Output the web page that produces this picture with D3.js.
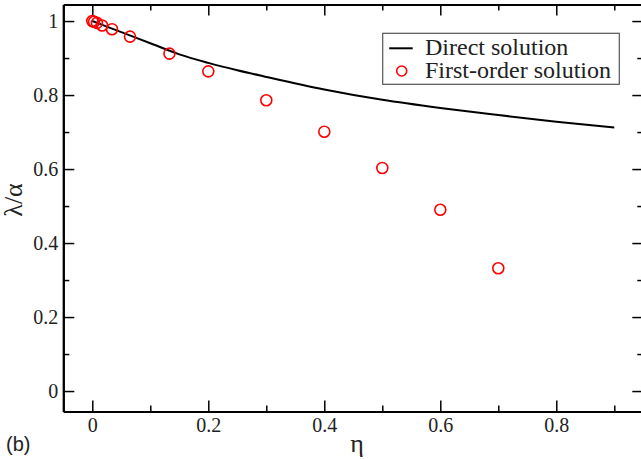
<!DOCTYPE html>
<html>
<head>
<meta charset="utf-8">
<script src="https://cdn.jsdelivr.net/npm/d3@7"></script>
<style>
  body { margin: 0; background: #fff; }
  svg { display: block; }
  .serif { font-family: "Liberation Serif", "Times New Roman", Times, "Nimbus Roman", "DejaVu Serif", serif; }
  .axis .tick text { font-family: "Liberation Serif", "Times New Roman", Times, "Nimbus Roman", "DejaVu Serif", serif; font-size: 20px; fill: #222; }
  .axis path.domain { stroke: #000; stroke-width: 2; }
  .axis .tick line { stroke: #000; stroke-width: 1.5; }
</style>
</head>
<body>
<div id="plot"></div>
<script>
"use strict";

// Direct solution (line)
var directEta = [0, 0.05, 0.1, 0.15, 0.2, 0.25, 0.3, 0.4, 0.5, 0.6, 0.7, 0.8, 0.9];
var directLambda = [1.0, 0.970, 0.940, 0.910, 0.887, 0.867, 0.849, 0.815, 0.787, 0.765, 0.746, 0.728, 0.712];

// First-order solution (circles)
var firstEta = [0, 0.003, 0.008, 0.017, 0.034, 0.065, 0.133, 0.2, 0.3, 0.4, 0.5, 0.6, 0.7];
var firstLambda = [1.0, 0.998, 0.995, 0.988, 0.978, 0.958, 0.912, 0.864, 0.786, 0.701, 0.603, 0.490, 0.332];

var xMajor = [0, 0.2, 0.4, 0.6, 0.8];
var xMinor = [0.1, 0.3, 0.5, 0.7, 0.9];
var yMajor = [0, 0.2, 0.4, 0.6, 0.8, 1];
var yMinor = [0.1, 0.3, 0.5, 0.7, 0.9];

var legendLabels = ["Direct solution", "First-order solution"];

var WIDTH = 641;
var HEIGHT = 459;
var MAJOR = 11;
var MINOR = 6;

var svg = d3.select("#plot").append("svg")
    .attr("width", WIDTH)
    .attr("height", HEIGHT);

var scaleX = d3.scaleLinear().domain([-0.05, 0.95]).range([63.3, 643.3]);
var scaleY = d3.scaleLinear().domain([-0.055, 1.045]).range([411.4, 4.4]);

var x0 = scaleX.range()[0], x1 = scaleX.range()[1];
var y0 = scaleY.range()[0], y1 = scaleY.range()[1];

var fmt = function (d) { return d === 0 || d === 1 ? String(d) : d3.format(".1f")(d); };

// Axes: bottom / left with labels, top / right mirrored without
function addAxis(axisFn, translate, values, size, labels, pad) {
    var ax = axisFn.tickValues(values)
        .tickSizeInner(-size)
        .tickSizeOuter(0)
        .tickPadding(pad || 0)
        .tickFormat(labels ? fmt : "");
    svg.append("g")
        .attr("class", "axis")
        .attr("transform", translate)
        .call(ax)
        .attr("font-family", null)
        .attr("font-size", null);
}

addAxis(d3.axisBottom(scaleX), "translate(0," + y0 + ")", xMajor, MAJOR, true, 6);
addAxis(d3.axisBottom(scaleX), "translate(0," + y0 + ")", xMinor, MINOR, false);
addAxis(d3.axisTop(scaleX), "translate(0," + y1 + ")", xMajor, MAJOR, false);
addAxis(d3.axisTop(scaleX), "translate(0," + y1 + ")", xMinor, MINOR, false);
addAxis(d3.axisLeft(scaleY), "translate(" + x0 + ",0)", yMajor, MAJOR, true, 5);
addAxis(d3.axisLeft(scaleY), "translate(" + x0 + ",0)", yMinor, MINOR, false);
addAxis(d3.axisRight(scaleY), "translate(" + x1 + ",0)", yMajor, MAJOR, false);
addAxis(d3.axisRight(scaleY), "translate(" + x1 + ",0)", yMinor, MINOR, false);

// Direct solution line
var line = d3.line()
    .x(function (d) { return scaleX(d[0]); })
    .y(function (d) { return scaleY(d[1]); })
    .curve(d3.curveMonotoneX);

svg.append("path")
    .datum(d3.zip(directEta, directLambda))
    .attr("d", line)
    .attr("fill", "none")
    .attr("stroke", "#000")
    .attr("stroke-width", 2);

// First-order solution circles
svg.selectAll("circle.first")
    .data(d3.zip(firstEta, firstLambda))
    .enter().append("circle")
    .attr("class", "first")
    .attr("cx", function (d) { return scaleX(d[0]); })
    .attr("cy", function (d) { return scaleY(d[1]); })
    .attr("r", 5.5)
    .attr("fill", "none")
    .attr("stroke", "#ff0000")
    .attr("stroke-width", 1.6);

// Axis titles
svg.append("text")
    .attr("class", "serif")
    .text("η")
    .attr("x", 357)
    .attr("y", 452)
    .attr("text-anchor", "middle")
    .style("font-size", "26px")
    .style("fill", "#222");

svg.append("text")
    .attr("class", "serif")
    .text("λ/α")
    .attr("transform", "translate(22,200) rotate(-90)")
    .attr("text-anchor", "middle")
    .style("font-size", "26px")
    .style("fill", "#222");

svg.append("text")
    .text("(b)")
    .attr("x", 6)
    .attr("y", 451)
    .style("font-family", "'Liberation Sans', Arial, sans-serif")
    .style("font-size", "20px")
    .style("fill", "#222");

// Legend
var legend = svg.append("g").attr("transform", "translate(382.7,33.3)");
legend.append("rect")
    .attr("width", 236.6)
    .attr("height", 51)
    .attr("fill", "#fff")
    .attr("stroke", "#555")
    .attr("stroke-width", 1.2);
legend.append("line")
    .attr("x1", 6.5).attr("x2", 30)
    .attr("y1", 15).attr("y2", 15)
    .attr("stroke", "#000")
    .attr("stroke-width", 2);
legend.append("circle")
    .attr("cx", 19).attr("cy", 37.7)
    .attr("r", 5)
    .attr("fill", "none")
    .attr("stroke", "#ff0000")
    .attr("stroke-width", 1.6);
legend.selectAll("text.leg")
    .data(legendLabels)
    .enter().append("text")
    .attr("class", "leg serif")
    .text(function (d) { return d; })
    .attr("x", 42.3)
    .attr("y", function (d, i) { return 21.7 + i * 23.3; })
    .style("font-size", "24px")
    .style("fill", "#222");
</script>
</body>
</html>
